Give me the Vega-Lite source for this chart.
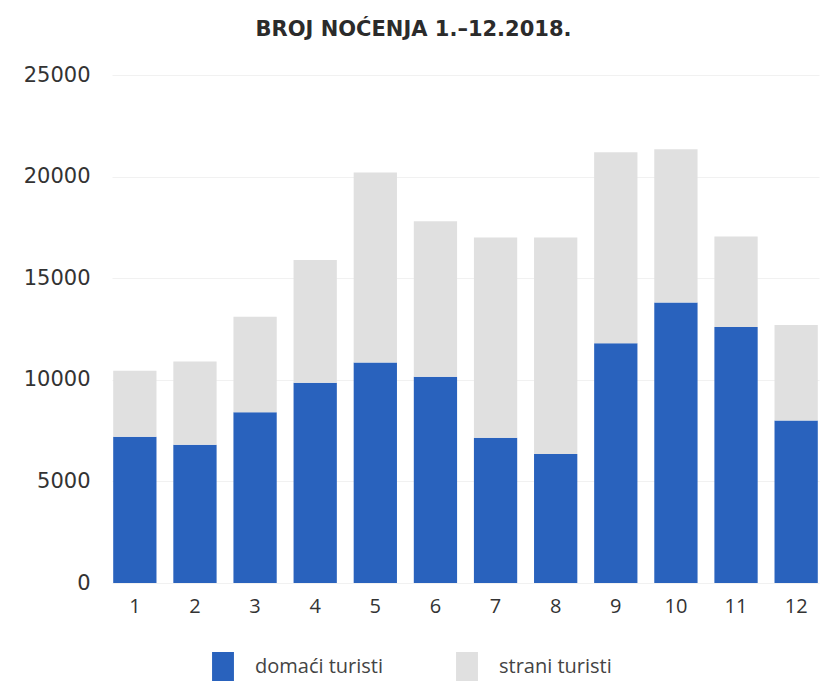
{
  "$schema": "https://vega.github.io/schema/vega-lite/v6.json",
  "autosize": "none",
  "padding": {"left": 112, "top": 75, "right": 1, "bottom": 98},
  "width": 707,
  "height": 508,
  "background": "white",
  "title": {
    "text": "BROJ NOĆENJA 1.–12.2018.",
    "anchor": "middle",
    "frame": "group",
    "dx": -52,
    "offset": 24,
    "font": "DejaVu Sans",
    "fontSize": 21,
    "fontWeight": "bold",
    "color": "#2b2b2b"
  },
  "data": {
    "values": [
      {"month": "1", "type": "domaći turisti", "value": 7200},
      {"month": "1", "type": "strani turisti", "value": 3250},
      {"month": "2", "type": "domaći turisti", "value": 6800},
      {"month": "2", "type": "strani turisti", "value": 4100},
      {"month": "3", "type": "domaći turisti", "value": 8400},
      {"month": "3", "type": "strani turisti", "value": 4700},
      {"month": "4", "type": "domaći turisti", "value": 9850},
      {"month": "4", "type": "strani turisti", "value": 6050},
      {"month": "5", "type": "domaći turisti", "value": 10850},
      {"month": "5", "type": "strani turisti", "value": 9350},
      {"month": "6", "type": "domaći turisti", "value": 10150},
      {"month": "6", "type": "strani turisti", "value": 7650},
      {"month": "7", "type": "domaći turisti", "value": 7150},
      {"month": "7", "type": "strani turisti", "value": 9850},
      {"month": "8", "type": "domaći turisti", "value": 6350},
      {"month": "8", "type": "strani turisti", "value": 10650},
      {"month": "9", "type": "domaći turisti", "value": 11800},
      {"month": "9", "type": "strani turisti", "value": 9400},
      {"month": "10", "type": "domaći turisti", "value": 13800},
      {"month": "10", "type": "strani turisti", "value": 7550},
      {"month": "11", "type": "domaći turisti", "value": 12600},
      {"month": "11", "type": "strani turisti", "value": 4450},
      {"month": "12", "type": "domaći turisti", "value": 8000},
      {"month": "12", "type": "strani turisti", "value": 4700}
    ]
  },
  "mark": {"type": "bar"},
  "encoding": {
    "x": {
      "field": "month",
      "type": "ordinal",
      "sort": null,
      "scale": {"paddingInner": 0.28, "paddingOuter": 0.02},
      "axis": {
        "title": null,
        "labelAngle": 0,
        "ticks": false,
        "domain": false,
        "labelPadding": 13,
        "labelFont": "Open Sans",
        "labelFontSize": 20,
        "labelColor": "#333333"
      }
    },
    "y": {
      "field": "value",
      "type": "quantitative",
      "stack": "zero",
      "scale": {"domain": [0, 25000], "nice": false},
      "axis": {
        "title": null,
        "values": [0, 5000, 10000, 15000, 20000, 25000],
        "format": "d",
        "ticks": false,
        "domain": false,
        "labelPadding": 22,
        "labelFont": "DejaVu Sans",
        "labelFontSize": 21,
        "labelColor": "#333333",
        "grid": true,
        "gridColor": "#f1f1f1",
        "gridWidth": 1
      }
    },
    "color": {
      "field": "type",
      "type": "nominal",
      "scale": {"domain": ["domaći turisti", "strani turisti"], "range": ["#2962bd", "#e0e0e0"]},
      "legend": {
        "title": null,
        "orient": "none",
        "direction": "horizontal",
        "legendX": 96,
        "legendY": 577,
        "padding": 0,
        "symbolType": "M-0.73,-1H0.73V1H-0.73Z",
        "symbolSize": 900,
        "symbolStrokeWidth": 0,
        "symbolOpacity": 1,
        "labelOffset": 17,
        "columnPadding": 68,
        "labelFont": "Open Sans",
        "labelFontSize": 20,
        "labelColor": "#444444"
      }
    },
    "order": {"field": "type", "sort": "ascending"}
  },
  "config": {
    "view": {"stroke": null}
  }
}
